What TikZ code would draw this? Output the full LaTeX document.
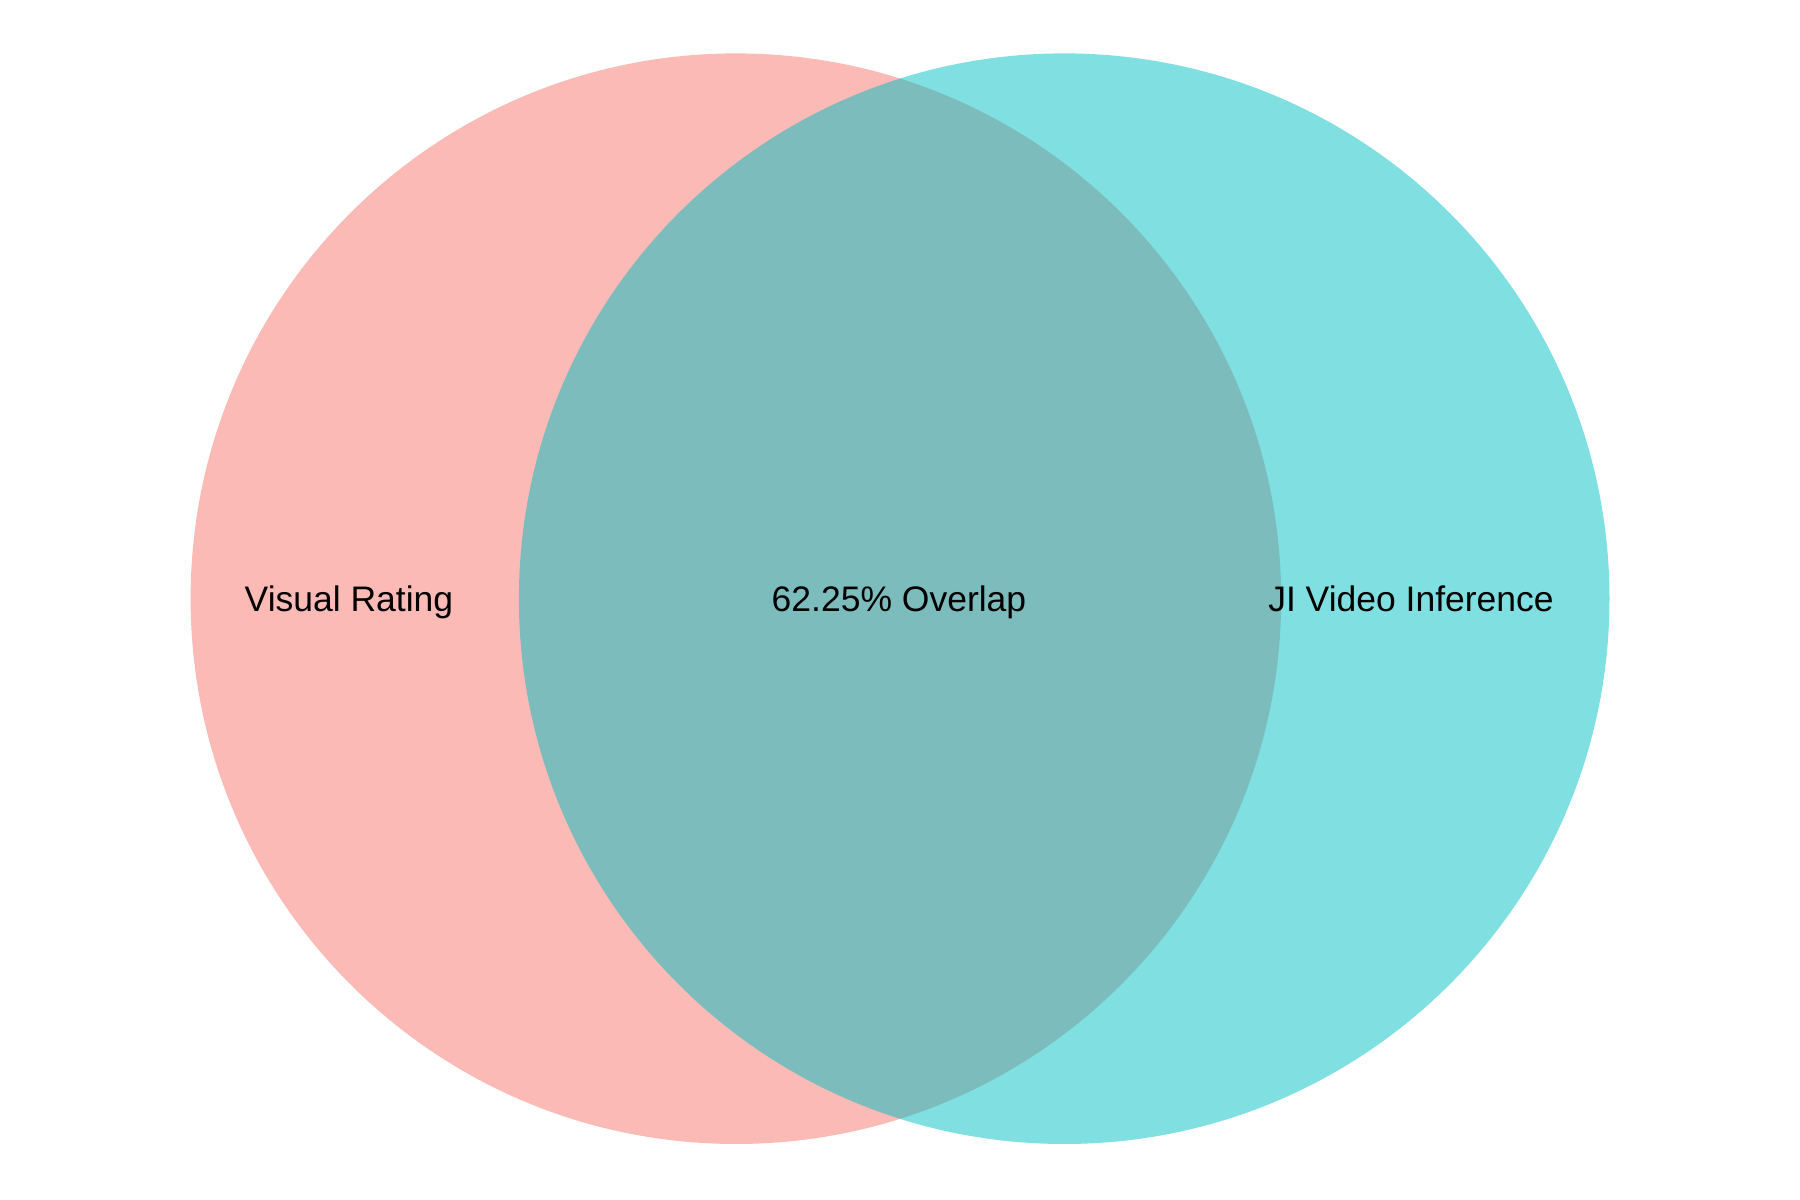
\documentclass[tikz,border=0pt]{standalone}
\usepackage{fontspec}
\setmainfont{Liberation Sans}
\usepackage{tikz}
\usetikzlibrary{positioning}
\definecolor{setred}{HTML}{F8766D}
\definecolor{setcyan}{HTML}{00BFC4}

\begin{document}
\begin{tikzpicture}[set/.style={
			circle,
			inner sep=0pt,
			minimum size=10.906cm,
			fill opacity=0.5,
		}, label/.style={font=\fontsize{10.1}{12}\selectfont, text=black, anchor=base}]
		\useasboundingbox (0,0) rectangle (18,12);
		\node[set, fill=setred] (visual) at (7.359,6.013) {};
		\node[set, fill=setcyan] (video) at (10.642,6.013) {};
		
		\node[label] (visuallbl) at (3.49,5.88) {Visual Rating};
		\node[label] (overlaplbl) at (8.99,5.88) {62.25\% Overlap};
		\node[label] (videolbl) at (14.11,5.88) {JI Video Inference};
	\end{tikzpicture}
\end{document}
